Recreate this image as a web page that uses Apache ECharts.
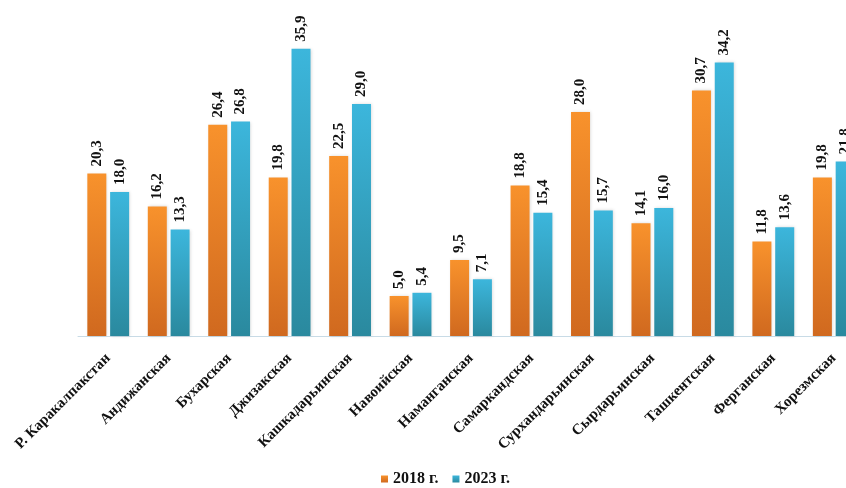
<!DOCTYPE html>
<html><head><meta charset="utf-8">
<script src="https://cdn.jsdelivr.net/npm/echarts@6/dist/echarts.min.js"></script>
<style>html,body{margin:0;padding:0;background:#fff;overflow:hidden}#c{width:880px;height:488px}</style>
</head><body><div id="c"></div>
<script>
const categories = ['Р. Каракалпакстан','Андижанская','Бухарская','Джизакская','Кашкадарьинская','Навоийская','Наманганская','Самаркандская','Сурхандарьинская','Сырдарьинская','Ташкентская','Ферганская','Хорезмская'];
const values2018 = [20.3,16.2,26.4,19.8,22.5,5.0,9.5,18.8,28.0,14.1,30.7,11.8,19.8];
const values2023 = [18.0,13.3,26.8,35.9,29.0,5.4,7.1,15.4,15.7,16.0,34.2,13.6,21.8];
const seriesNames = ['2018 г.','2023 г.'];

const font = '"Liberation Serif","Times New Roman",serif';
const grad = (a,b)=>new echarts.graphic.LinearGradient(0,0,0,1,[{offset:0,color:a},{offset:1,color:b}]);
const lbl = {show:true,position:'top',rotate:90,align:'left',verticalAlign:'middle',distance:7,
  fontFamily:font,fontWeight:'bold',fontSize:15,color:'#111',
  formatter:p=>p.value.toFixed(1).replace('.',',')};
const chart = echarts.init(document.getElementById('c'));
chart.setOption({
  animation:false,
  grid:{left:78,top:16,width:786,bottom:152,containLabel:false},
  legend:{bottom:-4,left:376,itemWidth:7,itemHeight:7,itemGap:14,icon:'rect',
    textStyle:{fontFamily:font,fontWeight:'bold',fontSize:16,color:'#111'}},
  xAxis:{type:'category',data:categories,
    axisLine:{lineStyle:{color:'#c8dbe6',width:1}},axisTick:{show:false},
    axisLabel:{rotate:45,interval:0,fontFamily:font,fontWeight:'bold',fontSize:15,color:'#111',margin:20}},
  yAxis:{type:'value',min:0,max:40,show:false,splitLine:{show:false}},
  series:[
    {name:seriesNames[0],type:'bar',data:values2018,barWidth:19,barGap:'20%',
     itemStyle:{color:grad('#f8922c','#d0691f'),shadowColor:'rgba(0,0,0,0.15)',shadowBlur:3,shadowOffsetX:1},label:lbl},
    {name:seriesNames[1],type:'bar',data:values2023,barWidth:19,
     itemStyle:{color:grad('#3cb6dc','#2a899e'),shadowColor:'rgba(0,0,0,0.15)',shadowBlur:3,shadowOffsetX:1},label:lbl}
  ]
});
</script></body></html>
